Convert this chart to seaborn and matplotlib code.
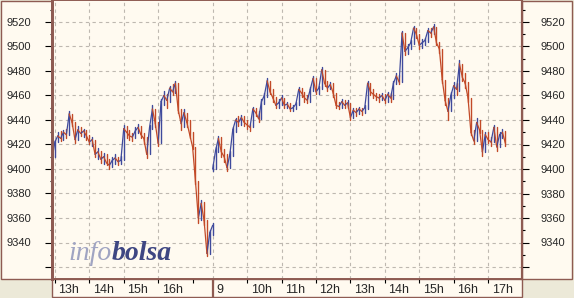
import numpy as np
import pandas as pd
import matplotlib
matplotlib.use("Agg")
import matplotlib.pyplot as plt
import seaborn as sns
from matplotlib.patches import Rectangle
from matplotlib.transforms import ScaledTranslation, blended_transform_factory

# ---------------- data (5-minute bars) ----------------
day1_start_min = 12 * 60 + 55   # first bar of day 1 (12:55)
day2_start_min = 9 * 60         # first bar of day 2 (9:00)
step_min = 5

day1_close = [9408, 9422, 9427, 9425, 9430, 9428, 9445, 9438, 9424, 9432,
              9429, 9431, 9427, 9422, 9424, 9412, 9414, 9408, 9410, 9405,
              9403, 9407, 9409, 9406, 9407, 9433, 9430, 9427, 9426, 9431,
              9434, 9428, 9425, 9412, 9434, 9449, 9437, 9421, 9455, 9460,
              9456, 9466, 9463, 9470, 9448, 9437, 9446, 9438, 9428, 9418,
              9390, 9360, 9372, 9358, 9331, 9348, 9354]
day1_low = [9403, 9410, 9422, 9423, 9424, 9425, 9428, 9435, 9421, 9424,
            9427, 9426, 9424, 9420, 9419, 9410, 9408, 9405, 9404, 9403,
            9400, 9402, 9404, 9403, 9404, 9407, 9425, 9424, 9423, 9425,
            9429, 9425, 9420, 9409, 9412, 9433, 9434, 9419, 9421, 9452,
            9450, 9455, 9460, 9462, 9446, 9432, 9434, 9434, 9425, 9416,
            9388, 9356, 9358, 9354, 9329, 9331, 9346]
day1_high = [9412, 9424, 9430, 9431, 9432, 9433, 9447, 9445, 9438, 9435,
             9434, 9433, 9432, 9428, 9426, 9424, 9417, 9415, 9413, 9412,
             9408, 9410, 9412, 9410, 9411, 9436, 9435, 9432, 9429, 9434,
             9437, 9435, 9429, 9426, 9436, 9452, 9449, 9438, 9457, 9464,
             9461, 9468, 9469, 9472, 9470, 9449, 9449, 9446, 9440, 9430,
             9418, 9390, 9375, 9373, 9358, 9350, 9356]

day2_close = [9400, 9415, 9425, 9414, 9410, 9401, 9412, 9432, 9440, 9438,
              9442, 9438, 9436, 9434, 9449, 9446, 9441, 9455, 9460, 9472,
              9463, 9458, 9452, 9454, 9458, 9452, 9453, 9449, 9450, 9453,
              9465, 9462, 9458, 9456, 9465, 9474, 9463, 9466, 9481, 9470,
              9466, 9469, 9462, 9452, 9451, 9455, 9452, 9454, 9442, 9448,
              9446, 9449, 9447, 9450, 9470, 9463, 9461, 9459, 9458, 9460,
              9456, 9461, 9458, 9470, 9476, 9471, 9511, 9496, 9499, 9503,
              9515, 9510, 9501, 9503, 9505, 9513, 9511, 9516, 9503, 9498,
              9473, 9456, 9447, 9460, 9468, 9465, 9486, 9475, 9470, 9458,
              9430, 9423, 9438, 9432, 9414, 9428, 9424, 9422, 9434, 9418,
              9428, 9430, 9421]
day2_low = [9398, 9400, 9414, 9410, 9406, 9398, 9401, 9411, 9430, 9435,
            9436, 9435, 9433, 9431, 9434, 9443, 9438, 9441, 9453, 9459,
            9461, 9455, 9450, 9450, 9452, 9450, 9450, 9447, 9447, 9449,
            9452, 9459, 9455, 9454, 9455, 9464, 9461, 9461, 9465, 9468,
            9464, 9465, 9459, 9450, 9449, 9450, 9450, 9450, 9440, 9442,
            9443, 9445, 9444, 9446, 9449, 9460, 9458, 9456, 9455, 9456,
            9454, 9455, 9455, 9457, 9469, 9469, 9471, 9493, 9494, 9498,
            9502, 9507, 9498, 9499, 9501, 9504, 9508, 9510, 9501, 9495,
            9470, 9452, 9440, 9447, 9458, 9460, 9464, 9472, 9466, 9455,
            9428, 9420, 9423, 9429, 9411, 9414, 9421, 9419, 9422, 9415,
            9418, 9425, 9419]
day2_high = [9404, 9418, 9427, 9426, 9416, 9412, 9415, 9434, 9442, 9443,
             9444, 9443, 9440, 9437, 9451, 9450, 9447, 9457, 9462, 9474,
             9472, 9465, 9459, 9457, 9460, 9458, 9455, 9454, 9452, 9455,
             9467, 9466, 9463, 9460, 9467, 9476, 9474, 9468, 9483, 9481,
             9472, 9471, 9470, 9462, 9455, 9457, 9456, 9456, 9454, 9450,
             9450, 9451, 9450, 9452, 9472, 9470, 9465, 9462, 9461, 9462,
             9461, 9463, 9462, 9472, 9478, 9477, 9513, 9511, 9502, 9505,
             9517, 9515, 9510, 9506, 9507, 9515, 9515, 9518, 9516, 9504,
             9498, 9473, 9458, 9463, 9471, 9470, 9489, 9486, 9478, 9471,
             9458, 9432, 9442, 9440, 9432, 9430, 9430, 9426, 9436, 9434,
             9430, 9433, 9431]

day1_hours = [13, 14, 15, 16, 17]
day1_labels = ["13h", "14h", "15h", "16h", ""]
day2_hours = [9, 10, 11, 12, 13, 14, 15, 16, 17]
day2_labels = ["9", "10h", "11h", "12h", "13h", "14h", "15h", "16h", "17h"]

y_ticks = list(range(9320, 9521, 20))
y_labels = ["" if v == 9320 else str(v) for v in y_ticks]

# ---------------- styling ----------------
W, H = 574, 298
CREAM = "#FFFAF0"
GREY = "#ECE9D8"
BROWN = "#8E5B52"
UP = "#3F4A9C"
DOWN = "#C24A28"
FONT = "Liberation Sans"

sns.set_style("white")
plt.rcParams["font.family"] = [FONT, "DejaVu Sans"]

day2_offset = (len(day1_close) - 1) * step_min / 60.0

def pos_day1(minute):
    return (minute - day1_start_min) / 60.0

def pos_day2(minute):
    return day2_offset + (minute - day2_start_min) / 60.0

line_rows, bar_rows = [], []
seg = 0
bar = 0
for closes, lows, highs, start, fn in [
        (day1_close, day1_low, day1_high, day1_start_min, pos_day1),
        (day2_close, day2_low, day2_high, day2_start_min, pos_day2)]:
    for i in range(len(closes)):
        xi = fn(start + i * step_min)
        d = "up" if i == 0 or closes[i] >= closes[i - 1] else "down"
        bar_rows.append({"bar": bar, "x": xi, "price": lows[i], "dir": d})
        bar_rows.append({"bar": bar, "x": xi, "price": highs[i], "dir": d})
        bar += 1
        if i > 0:
            for k in (i - 1, i):
                line_rows.append({"seg": seg, "x": fn(start + k * step_min),
                                  "price": closes[k], "dir": d})
            seg += 1
df_line = pd.DataFrame(line_rows)
df_bar = pd.DataFrame(bar_rows)

fig = plt.figure(figsize=(W / 100, H / 100), dpi=100, facecolor=GREY)

def px_rect(x0, top, x1, bottom, **kw):
    r = Rectangle((x0 / W, 1 - bottom / H), (x1 - x0) / W, (bottom - top) / H,
                  transform=fig.transFigure, **kw)
    fig.add_artist(r)

px_rect(0.5, 0.5, 52, 279, facecolor=CREAM, edgecolor=BROWN, lw=1.0, zorder=0)
px_rect(522, 0.5, 572, 279, facecolor=CREAM, edgecolor=BROWN, lw=1.0, zorder=0)
px_rect(52, 279, 522, 296.5, facecolor=CREAM, edgecolor=BROWN, lw=1.0, zorder=0)

ax = fig.add_axes([52 / W, 19 / H, 470 / W, 279 / H], facecolor=CREAM)
ax.set_zorder(2)

pal = {"up": UP, "down": DOWN}
sns.lineplot(data=df_bar, x="x", y="price", hue="dir", units="bar",
             estimator=None, sort=False, palette=pal, legend=False,
             linewidth=1.0, ax=ax)
sns.lineplot(data=df_line, x="x", y="price", hue="dir", units="seg",
             estimator=None, palette=pal, legend=False, linewidth=0.9, ax=ax)

ax.set_xlim(0, 470 / 34.43)
ax.set_ylim(9520 - 257 / 1.225, 9520 + 22 / 1.225)
ax.set_xlabel("")
ax.set_ylabel("")

major_x = [pos_day1(h * 60) for h, l in zip(day1_hours, day1_labels) if l] + \
          [pos_day2(h * 60) for h in day2_hours]
major_lab = [l for l in day1_labels if l] + day2_labels
minor_x = [pos_day1(h * 60) for h, l in zip(day1_hours, day1_labels) if not l]
ax.set_xticks(major_x)
ax.set_xticklabels(major_lab)
ax.set_xticks(minor_x, minor=True)
ax.tick_params(axis="x", which="both", direction="out", length=3, width=0.8,
               color="black", pad=0.5, labelsize=9, bottom=True)
off = ScaledTranslation(2.5 / 72, 0, fig.dpi_scale_trans)
for lab in ax.get_xticklabels():
    lab.set_horizontalalignment("left")
    lab.set_transform(lab.get_transform() + off)

ax.set_yticks(y_ticks)
ax.set_yticklabels(y_labels)
ax.set_yticks(list(range(9320, 9540, 10)), minor=True)
ax.tick_params(axis="y", which="major", direction="out", length=5, width=0.8,
               color="black", pad=10, labelsize=8, left=True)
ax.tick_params(axis="y", which="minor", direction="out", length=1.8, width=0.8,
               color="black", left=True)

ax2 = ax.twinx()
ax2.set_ylim(ax.get_ylim())
ax2.set_yticks(y_ticks)
ax2.set_yticklabels(y_labels)
ax2.set_yticks(list(range(9320, 9540, 10)), minor=True)
ax2.tick_params(axis="y", which="major", direction="out", length=5, width=0.8,
                color="black", pad=8, labelsize=8, right=True)
ax2.tick_params(axis="y", which="minor", direction="out", length=1.8,
                width=0.8, color="black", right=True)
ax2.grid(False)

for a in (ax, ax2):
    for s in a.spines.values():
        s.set_color(BROWN)
        s.set_linewidth(1.2)
    a.spines["left"].set_linewidth(2.0)
    a.spines["right"].set_linewidth(1.5)

ax.grid(True, which="major", color="#BEB8B0", linestyle=(0, (3, 3)),
        linewidth=0.8)
ax.set_axisbelow(True)

tr = blended_transform_factory(ax.transData, ax.transAxes)
x9 = pos_day2(9 * 60)
ax.plot([x9, x9], [0, -18 / 279], transform=tr, color=BROWN, lw=1.6,
        clip_on=False)

# watermark
t1 = ax.text(0.034, 0.068, "info", transform=ax.transAxes,
             family="Liberation Serif", style="italic", fontsize=20,
             color="#A0A4C2", va="baseline", ha="left")
ax.annotate("bolsa", xy=(1, 0), xycoords=t1, xytext=(0.5, 0),
            textcoords="offset points", family="Liberation Serif",
            style="italic", weight="bold", fontsize=20, color="#3E4682",
            va="bottom", ha="left")

fig.savefig("out.png", dpi=100, facecolor=GREY)
